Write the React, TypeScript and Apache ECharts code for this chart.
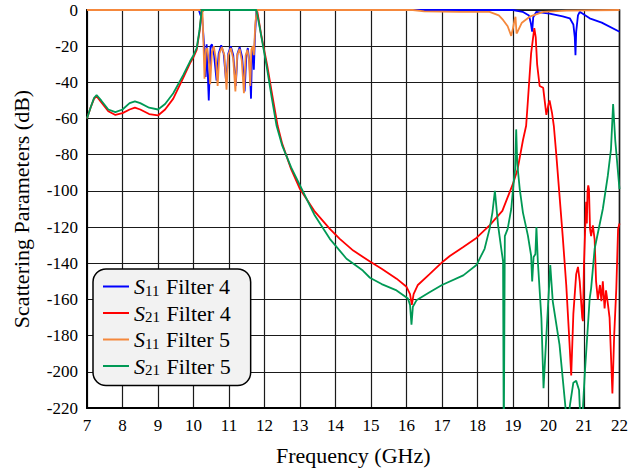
import React, { useEffect, useRef } from 'react';
import * as echarts from 'echarts';

// ---- Data (frequency in GHz, magnitude in dB) ----
const seriesNames = ['S11 Filter 4', 'S21 Filter 4', 'S11 Filter 5', 'S21 Filter 5'];
const seriesColors = ['#0000ff', '#ff0000', '#f5883c', '#009955'];

const freqS11F4 = [7.0, 10.15, 10.2, 10.23, 10.3, 10.34, 10.37, 10.43, 10.48, 10.52, 10.58, 10.65, 10.71, 10.78, 10.85, 10.92, 10.98, 11.05, 11.12, 11.19, 11.24, 11.3, 11.37, 11.44, 11.49, 11.53, 11.58, 11.62, 11.65, 11.68, 11.7, 11.73, 11.77, 11.8, 19.0, 19.27, 19.45, 19.5, 19.54, 19.57, 19.66, 20.03, 20.4, 20.6, 20.7, 20.74, 20.76, 20.78, 20.83, 20.88, 21.16, 21.5, 22.0];
const dbS11F4 = [0, 0, -3, 0, -20, -37, -19, -50, -20, -19, -25, -39, -24, -19.5, -24, -40, -24, -20, -25, -42, -24, -20.5, -26, -45, -25, -21, -30, -49, -22, -20, -33, -15, -1, 0, 0, -1, -3, -7, -12, -4, -1, -2, -3.5, -4.6, -8, -15, -25, -12, -3, -1, -4.6, -7, -12];

const freqS21F4 = [7.0, 7.1, 7.2, 7.27, 7.4, 7.6, 7.8, 8.0, 8.2, 8.35, 8.5, 8.75, 9.0, 9.2, 9.43, 9.71, 9.9, 10.0, 10.09, 10.17, 10.23, 10.3, 11.75, 11.8, 11.9, 12.08, 12.2, 12.37, 12.5, 12.75, 13.0, 13.4, 13.84, 14.12, 14.5, 14.97, 15.3, 15.72, 16.0, 16.1, 16.15, 16.2, 16.32, 16.65, 17.03, 17.22, 17.6, 17.97, 18.34, 18.7, 19.0, 19.13, 19.28, 19.37, 19.42, 19.51, 19.6, 19.64, 19.68, 19.75, 19.85, 19.94, 20.0, 20.03, 20.1, 20.15, 20.22, 20.3, 20.4, 20.5, 20.58, 20.64, 20.7, 20.78, 20.83, 20.88, 20.95, 20.97, 21.0, 21.06, 21.08, 21.1, 21.12, 21.14, 21.17, 21.2, 21.25, 21.3, 21.34, 21.39, 21.45, 21.49, 21.53, 21.58, 21.62, 21.67, 21.72, 21.8, 21.85, 21.91, 21.96, 22.0];
const dbS21F4 = [-60, -54, -49, -47.7, -51, -56, -58, -57, -55, -54, -55, -57.5, -58.3, -55, -49, -37.5, -29.5, -26, -22, -12, -1, 0, 0, -1, -13, -31, -45, -64, -74, -88, -99, -111, -121, -126.5, -133, -139, -143, -148.5, -153, -157, -163, -157, -152, -146, -139, -136, -131, -126, -119, -111, -96, -88, -72, -64, -50, -24, -10, -15, -30, -42, -43, -58, -52, -50, -57, -64, -80, -100, -125, -152, -180, -202, -168, -146, -142, -150, -170, -172, -140, -106, -118, -100, -97, -99, -121, -125, -119, -127, -150, -160, -152, -161, -150, -165, -155, -162, -170, -212, -180, -154, -121, -118];

const freqS11F5 = [7.0, 10.18, 10.22, 10.25, 10.28, 10.31, 10.35, 10.39, 10.44, 10.47, 10.52, 10.57, 10.63, 10.68, 10.73, 10.8, 10.87, 10.93, 10.98, 11.05, 11.12, 11.18, 11.23, 11.3, 11.36, 11.42, 11.47, 11.52, 11.56, 11.6, 11.63, 11.67, 11.7, 11.74, 11.78, 16.18, 16.5, 17.5, 18.34, 18.6, 18.72, 18.85, 18.95, 19.0, 19.05, 19.07, 19.1, 19.13, 19.25, 19.47, 19.85, 20.5, 22.0];
const dbS11F5 = [0, 0, -1, 0, -18, -38, -22, -21, -30, -41, -23, -20, -27, -42, -24, -20.5, -25, -44, -25, -21, -27, -45, -25, -21.5, -28, -46, -25, -22, -27, -42, -22, -20, -25, -8, 0, 0, -0.8, -1, -1, -3, -5.5, -9, -14.3, -10, -5, -3.7, -13, -12, -7, -3.7, -1, -0.3, 0];

const freqS21F5 = [7.0, 7.1, 7.2, 7.27, 7.4, 7.6, 7.8, 8.0, 8.2, 8.35, 8.5, 8.75, 9.0, 9.2, 9.43, 9.71, 9.9, 10.0, 10.09, 10.17, 10.23, 11.77, 11.85, 12.06, 12.2, 12.34, 12.5, 12.75, 13.0, 13.4, 13.84, 14.31, 14.77, 14.97, 15.3, 15.72, 16.04, 16.1, 16.14, 16.18, 16.28, 16.65, 17.0, 17.6, 17.97, 18.2, 18.34, 18.42, 18.49, 18.58, 18.67, 18.72, 18.74, 18.77, 18.85, 18.95, 19.02, 19.06, 19.09, 19.12, 19.19, 19.28, 19.42, 19.51, 19.54, 19.58, 19.63, 19.66, 19.7, 19.8, 19.86, 19.94, 20.05, 20.12, 20.31, 20.48, 20.53, 20.6, 20.7, 20.78, 20.86, 20.93, 20.97, 21.02, 21.16, 21.2, 21.3, 21.53, 21.67, 21.76, 21.82, 21.88, 21.99, 22.0];
const dbS21F5 = [-60, -54, -48.5, -47, -50, -55, -56.5, -55, -51.5, -50.5, -51.5, -54, -55, -52, -46, -36, -28.5, -25, -21, -11, 0, 0, -8, -31, -48, -64, -75, -87, -97, -113, -126.5, -137.5, -144, -148, -151.5, -155, -159.5, -163, -174, -164, -160.5, -156, -152, -146.7, -141, -132, -121, -112, -100, -119, -132, -139, -240, -125, -121, -110, -95, -88, -66, -85, -99, -112, -124.7, -135.7, -150, -136.5, -135, -120, -139, -170.5, -209, -180, -141, -161, -185, -220, -240, -219, -206, -205, -210, -240, -220, -201.7, -159.5, -154, -132, -110, -91.7, -77, -52, -72, -97, -99];

const xTicks = { min: 7, max: 22, step: 1 };
const yTicks = { min: -220, max: 0, step: 20 };

const FONT = 'Liberation Serif';

const zip = (xs: number[], ys: number[]) => xs.map((x, i) => [x, ys[i]]);

const seriesData = [
  zip(freqS11F4, dbS11F4),
  zip(freqS21F4, dbS21F4),
  zip(freqS11F5, dbS11F5),
  zip(freqS21F5, dbS21F5),
];

const legendLabel: Record<string, string> = {
  'S11 Filter 4': '{s|S}{sub|11}{t| Filter 4}',
  'S21 Filter 4': '{s|S}{sub|21}{t| Filter 4}',
  'S11 Filter 5': '{s|S}{sub|11}{t| Filter 5}',
  'S21 Filter 5': '{s|S}{sub|21}{t| Filter 5}',
};

export default function App() {
  const ref = useRef<HTMLDivElement>(null);
  useEffect(() => {
    const chart = echarts.init(ref.current!, null, { renderer: 'svg' });
    chart.setOption({
      animation: false,
      backgroundColor: '#ffffff',
      textStyle: { fontFamily: FONT },
      grid: {
        left: 87, right: 11, top: 10, bottom: 61,
        show: true, borderColor: '#000', borderWidth: 1.5, backgroundColor: 'transparent',
      },
      xAxis: {
        type: 'value', min: xTicks.min, max: xTicks.max, interval: xTicks.step,
        name: 'Frequency (GHz)', nameLocation: 'middle', nameGap: 36,
        nameTextStyle: { fontFamily: FONT, fontSize: 22, color: '#000' },
        axisLine: { show: true, onZero: false, lineStyle: { color: '#000', width: 2 } },
        axisTick: { show: false },
        axisLabel: { fontFamily: FONT, fontSize: 17, color: '#000', margin: 9 },
        splitLine: { show: true, lineStyle: { color: '#1a1a1a', width: 1.2 } },
      },
      yAxis: {
        type: 'value', min: yTicks.min, max: yTicks.max, interval: yTicks.step,
        name: 'Scattering Parameters (dB)', nameLocation: 'middle', nameGap: 55, nameRotate: 90,
        nameTextStyle: { fontFamily: FONT, fontSize: 22, color: '#000' },
        axisLine: { show: true, onZero: false, lineStyle: { color: '#000', width: 2 } },
        axisTick: { show: false },
        axisLabel: { fontFamily: FONT, fontSize: 17, color: '#000', margin: 9 },
        splitLine: { show: true, lineStyle: { color: '#1a1a1a', width: 1.2 } },
      },
      legend: {
        data: seriesNames,
        orient: 'vertical',
        left: 93, top: 269,
        padding: [6, 20, 8, 10],
        backgroundColor: '#f2f2f2',
        borderColor: '#000', borderWidth: 1.5, borderRadius: 13,
        itemWidth: 26, itemHeight: 2, itemGap: 3.5,
        icon: 'rect',
        selectedMode: false,
        formatter: (name: string) => legendLabel[name],
        textStyle: {
          fontFamily: FONT, fontSize: 22, color: '#000',
          rich: {
            s: { fontFamily: FONT, fontSize: 22, fontStyle: 'italic', color: '#000', lineHeight: 22 },
            sub: { fontFamily: FONT, fontSize: 15, color: '#000', lineHeight: 15, padding: [8, 1, 0, 0] },
            t: { fontFamily: FONT, fontSize: 22, color: '#000', lineHeight: 22 },
          },
        },
      },
      series: seriesNames.map((name, i) => ({
        name,
        type: 'line',
        data: seriesData[i],
        showSymbol: false,
        symbol: 'none',
        clip: true,
        color: seriesColors[i],
        lineStyle: { color: seriesColors[i], width: 1.8 },
        z: 2 + i,
      })),
    });
    return () => chart.dispose();
  }, []);
  return <div ref={ref} style={{ position: 'absolute', left: 0, top: 0, width: 631, height: 471 }} />;
}
